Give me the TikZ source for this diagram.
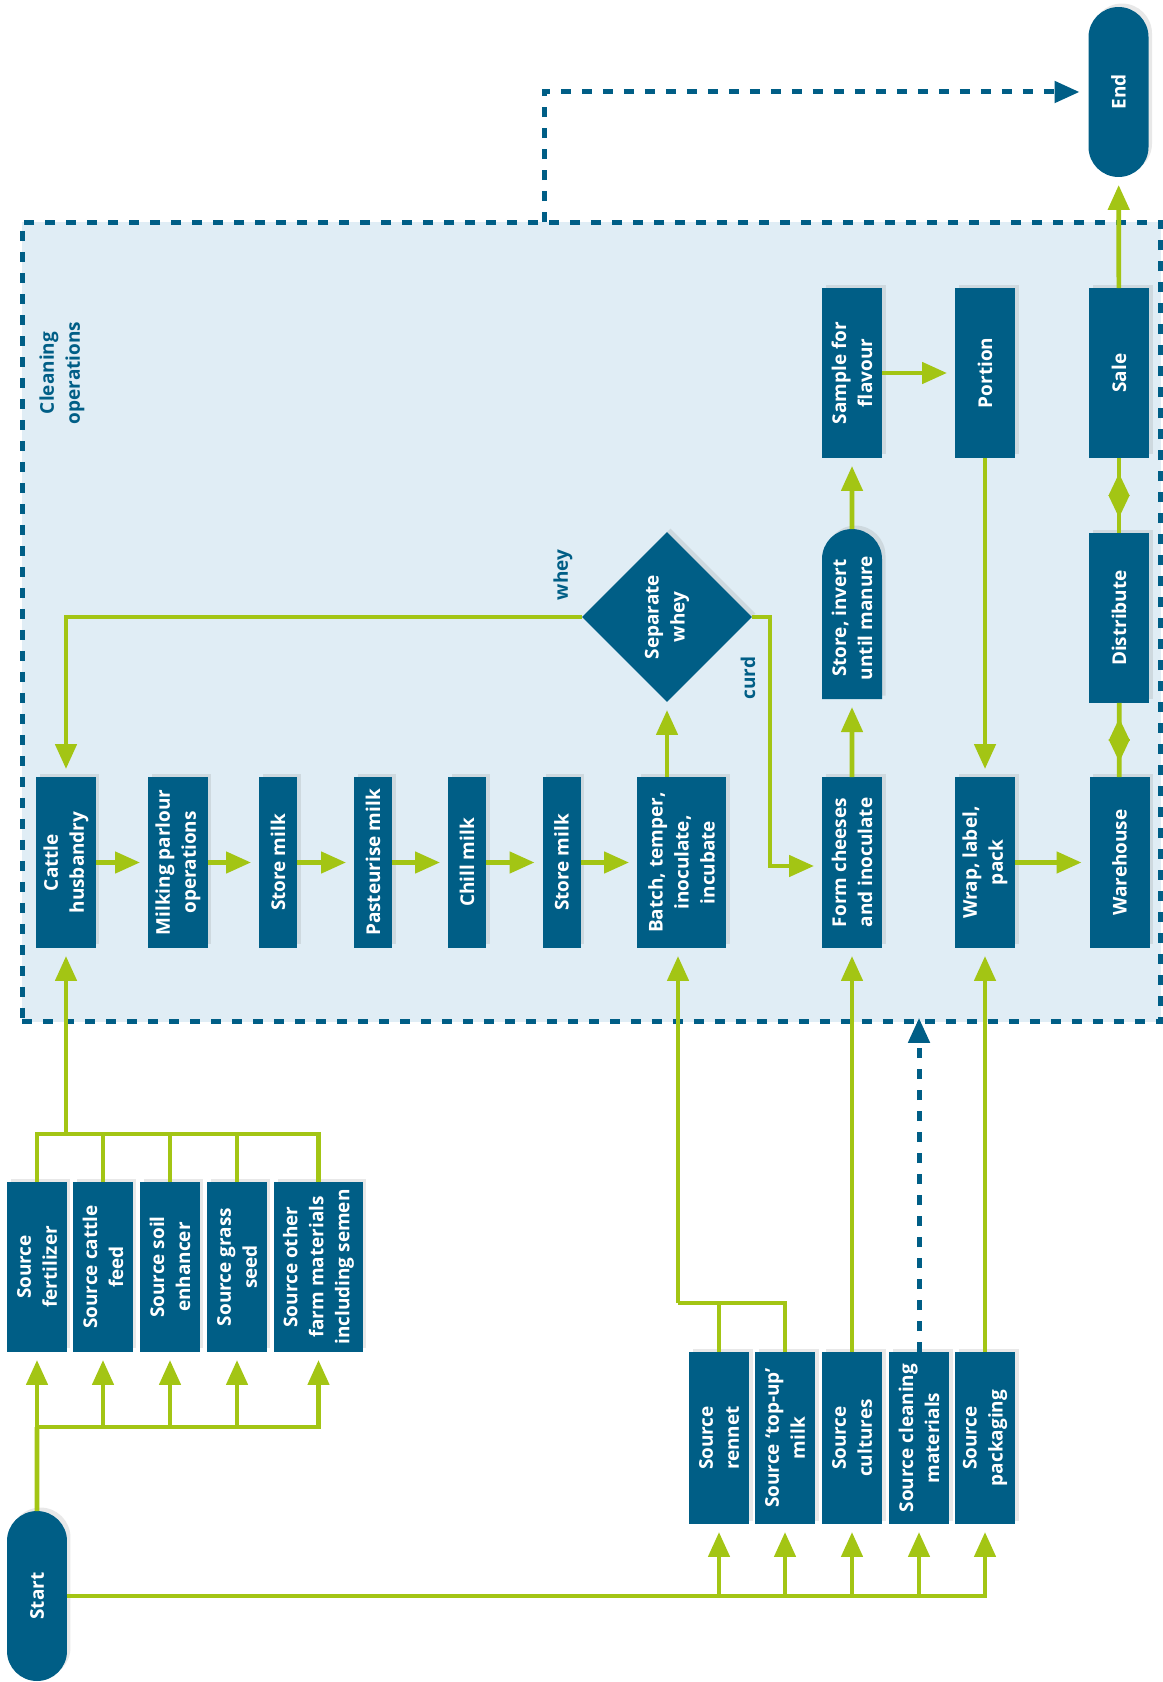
\documentclass[tikz,border=0pt]{standalone}
\usepackage{fontspec}
\setmainfont{Open Sans}
\usetikzlibrary{positioning,shapes.geometric,shapes.misc,arrows.meta,shadows,decorations.markings}
\definecolor{boxblue}{RGB}{0,94,134}
\definecolor{flowgreen}{RGB}{163,197,20}
\definecolor{opsblue}{RGB}{224,237,245}

\begin{document}
\begin{tikzpicture}[x=0.02cm, y=-0.02cm, >={Triangle[length=0.5cm,width=0.42cm]},
            box/.style ={rectangle, rotate=90, fill=boxblue, text=white, align=center,
            font=\fontsize{10.8}{14.8}\selectfont\bfseries, inner sep=0pt, outer sep=0pt,
            minimum width=3.42cm, minimum height=1.2cm,
            drop shadow={shadow xshift=0.07cm, shadow yshift=0.07cm, opacity=0.18}},
            slim/.style ={box, minimum height=0.76cm},
            fat/.style ={box, minimum height=1.78cm},
            src/.style ={box, minimum width=3.4cm},
            term/.style ={box, rounded rectangle, minimum width=3.4cm},
            half/.style ={box, rounded rectangle, rounded rectangle west arc=none, minimum width=3.4cm},
            decide/.style ={box, diamond, aspect=1, minimum width=3.4cm, minimum height=3.4cm},
            opsbox/.style ={draw=boxblue, fill=opsblue, line width=0.1cm, dash pattern=on 0.2cm off 0.22cm,
            inner sep=0pt, outer sep=0pt},
            tag/.style ={rotate=90, text=boxblue, align=center, font=\fontsize{10.8}{14.8}\selectfont\bfseries},
            link/.style ={draw=flowgreen, line width=0.094cm},
            flow/.style ={->, link, shorten >=0.16cm},
            clean/.style ={->, draw=boxblue, line width=0.1cm, dash pattern=on 0.2cm off 0.22cm, shorten >=0.18cm},
            mids/.style ={link, postaction={decorate}, decoration={markings,
            mark=at position 0.2 with {\arrowreversed[flowgreen]{Triangle[length=0.46cm,width=0.4cm]}},
            mark=at position 0.8 with {\arrow[flowgreen]{Triangle[length=0.46cm,width=0.4cm]}}}}]

        \useasboundingbox (0,0) rectangle (1162,1682);

        %\node [estilo] (nombre) at (x,y en pixeles) {texto};

        \node[opsbox, minimum width=22.78cm, minimum height=16cm] (ops) at (591.5,622) {};
        \node[tag] (opslbl) at (62,373) {Cleaning\\operations};

        \node[term] (Start) at (37,1596) {Start};
        \node[term] (End) at (1118.5,92) {End};

        \node[src] (fert) at (37,1267) {Source\\fertilizer};
        \node[src] (feed) at (103,1267) {Source cattle\\feed};
        \node[src] (soil) at (170,1267) {Source soil\\enhancer};
        \node[src] (seed) at (237,1267) {Source grass\\seed};
        \node[src, minimum height=1.78cm] (other) at (318.5,1267) {Source other\\farm materials\\including semen};

        \node[src, minimum width=3.44cm] (rennet) at (719,1438) {Source\\rennet};
        \node[src, minimum width=3.44cm] (topup) at (785,1438) {Source ‘top-up’\\milk};
        \node[src, minimum width=3.44cm] (cult) at (852,1438) {Source\\cultures};
        \node[src, minimum width=3.44cm] (cleanmat) at (919,1438) {Source cleaning\\materials};
        \node[src, minimum width=3.44cm] (packg) at (985,1438) {Source\\packaging};

        \node[box] (cattle) at (66,862.5) {Cattle\\husbandry};
        \node[box] (milking) at (178,862.5) {Milking parlour\\operations};
        \node[slim] (store1) at (278,862.5) {Store milk};
        \node[slim] (past) at (373,862.5) {Pasteurise milk};
        \node[slim] (chill) at (467,862.5) {Chill milk};
        \node[slim] (store2) at (561.5,862.5) {Store milk};
        \node[fat] (batch) at (681.5,862.5) {Batch, temper,\\inoculate,\\incubate};
        \node[box] (form) at (852,862.5) {Form cheeses\\and inoculate};
        \node[box] (wrap) at (985,862.5) {Wrap, label,\\pack};
        \node[box] (ware) at (1119.5,862.5) {Warehouse};

        \node[decide] (sep) at (667,617) {Separate\\whey};
        \node[half] (store) at (852,618) {Store, invert\\until manure};
        \node[src] (dist) at (1119,618) {Distribute};

        \node[src] (sample) at (852,373) {Sample for\\flavour};
        \node[src] (portion) at (985,373) {Portion};
        \node[src] (sale) at (1119,373) {Sale};

        \node[tag] (wheylbl) at (563,575) {whey};
        \node[tag] (curdlbl) at (748,678) {curd};

        %%--------------------------flechas--------------------------

        \coordinate (fa) at (37,1427);
        \coordinate (fb) at (66,1134);
        \coordinate (rb) at (678,1303);
        \coordinate (cd) at (770,866);

        \draw[link] (Start) -- (fa);
        \foreach \s in {fert,feed,soil,seed,other}
            \draw[flow] (fa) -| (\s);
        \foreach \s in {fert,feed,soil,seed,other}
            \draw[link] (\s) |- (fb);
        \draw[flow] (fb) -- (cattle);

        \foreach \s in {rennet,topup,cult,cleanmat,packg}
            \draw[flow] (Start) -| (\s);
        \draw[link] (rennet) |- (rb);
        \draw[link] (topup) |- (rb);
        \draw[flow] (rb) -- (rb |- batch.west);
        \path (cult) edge[flow] (form);
        \draw[clean, shorten >=-0.08cm] (cleanmat) -- (cleanmat |- ops.south);
        \path (packg) edge[flow] (wrap);

        \path (cattle) edge[flow] (milking);
        \path (milking) edge[flow] (store1);
        \path (store1) edge[flow] (past);
        \path (past) edge[flow] (chill);
        \path (chill) edge[flow] (store2);
        \path (store2) edge[flow] (batch);

        \draw[flow] (sep |- batch.east) -- (sep);
        \draw[flow] (sep) -| (cattle);
        \draw[flow] (sep) -| (cd) -- (cd -| form.north);

        \path (form) edge[flow] (store);
        \path (store) edge[flow] (sample);
        \path (sample) edge[flow] (portion);
        \path (portion) edge[flow] (wrap);
        \path (wrap) edge[flow] (ware);
        \draw[mids] (sale) -- (dist);
        \draw[mids] (dist) -- (ware);
        \path (sale) edge[flow] (End);

        \draw[clean] (ops.north west) ++(522,0) |- (End);

    \end{tikzpicture}
\end{document}
